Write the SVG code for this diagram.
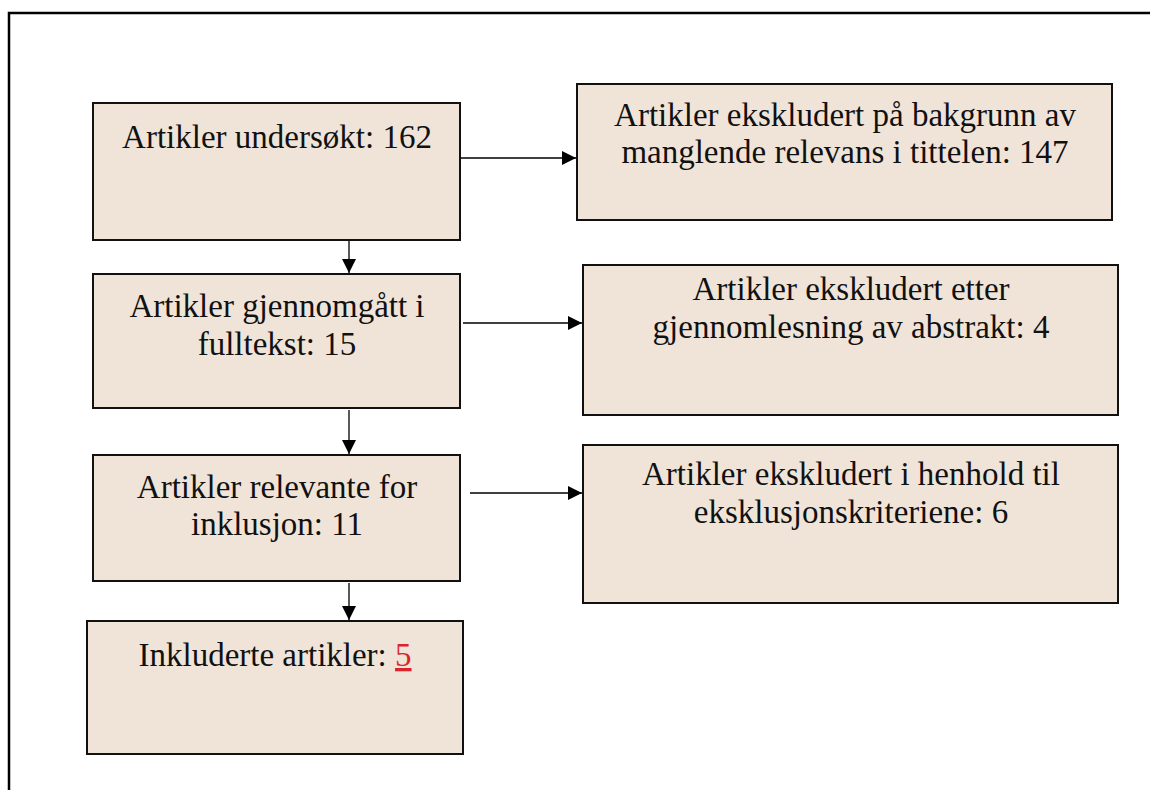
<svg xmlns="http://www.w3.org/2000/svg" width="1150" height="790" viewBox="0 0 1150 790">
<defs>
<marker id="ah" viewBox="0 0 10 10" refX="10" refY="5" markerWidth="14" markerHeight="14" markerUnits="userSpaceOnUse" orient="auto">
<path d="M0,0 L10,5 L0,10 z" fill="#000"/>
</marker>
<style>
.box{fill:#F0E4D9;stroke:#111;stroke-width:2}
.t{font-family:"Liberation Serif","Times New Roman",serif;font-size:33px;fill:#111;text-anchor:middle}
.c{stroke:#000;stroke-width:1.3;fill:none;marker-end:url(#ah)}
</style>
</defs>
<rect width="1150" height="790" fill="#fff"/>
<path d="M9,800 L9,13 L1160,13" fill="none" stroke="#000" stroke-width="2.5"/>
<g id="connectors">
<line class="c" x1="460" y1="158" x2="576" y2="158"/>
<line class="c" x1="349" y1="240" x2="349" y2="273"/>
<line class="c" x1="463" y1="323" x2="582" y2="323"/>
<line class="c" x1="349" y1="410" x2="349" y2="454"/>
<line class="c" x1="470" y1="493" x2="582" y2="493"/>
<line class="c" x1="349" y1="583" x2="349" y2="620"/>
</g>
<g id="n1">
<rect class="box" x="93" y="103" width="367" height="137"/>
<text class="t" x="277" y="148">Artikler undersøkt: 162</text>
</g>
<g id="n2">
<rect class="box" x="577" y="84" width="535" height="136"/>
<text class="t" x="845" y="126">Artikler ekskludert på bakgrunn av</text>
<text class="t" x="845" y="163">manglende relevans i tittelen: 147</text>
</g>
<g id="n3">
<rect class="box" x="93" y="274" width="367" height="134"/>
<text class="t" x="277" y="317">Artikler gjennomgått i</text>
<text class="t" x="277" y="355">fulltekst: 15</text>
</g>
<g id="n4">
<rect class="box" x="583" y="265" width="535" height="150"/>
<text class="t" x="851" y="300">Artikler ekskludert etter</text>
<text class="t" x="851" y="338">gjennomlesning av abstrakt: 4</text>
</g>
<g id="n5">
<rect class="box" x="93" y="455" width="367" height="126"/>
<text class="t" x="277" y="498">Artikler relevante for</text>
<text class="t" x="277" y="535">inklusjon: 11</text>
</g>
<g id="n6">
<rect class="box" x="583" y="445" width="535" height="158"/>
<text class="t" x="851" y="485">Artikler ekskludert i henhold til</text>
<text class="t" x="851" y="523">eksklusjonskriteriene: 6</text>
</g>
<g id="n7">
<rect class="box" x="87" y="621" width="376" height="133"/>
<text class="t" x="275" y="666">Inkluderte artikler: <tspan fill="#D9262E" text-decoration="underline">5</tspan></text>
</g>
</svg>
